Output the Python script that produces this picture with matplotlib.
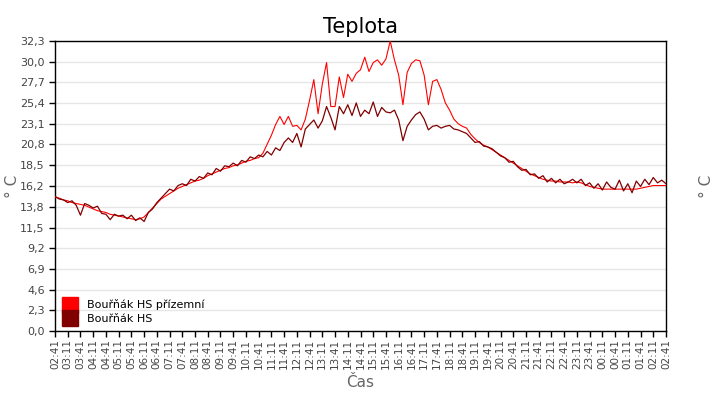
import matplotlib
matplotlib.use("Agg")
import matplotlib.pyplot as plt
from matplotlib.lines import Line2D
import numpy as np

# time in hours since 02:41, 10-minute steps
hours = [i / 6 for i in range(145)]

ground = [14.9, 14.8, 14.6, 14.5, 14.3, 14.2, 14.1, 14.0, 13.8, 13.6,
          13.4, 13.3, 13.2, 13.0, 12.9, 12.8, 12.7, 12.6, 12.5, 12.4,
          12.5, 12.7, 13.2, 13.7, 14.2, 14.7, 15.0, 15.3, 15.6, 15.9,
          16.1, 16.3, 16.5, 16.7, 16.8, 17.0, 17.3, 17.5, 17.7, 17.9,
          18.1, 18.2, 18.4, 18.5, 18.7, 18.9, 19.0, 19.2, 19.3, 19.8,
          20.8, 21.8, 23.0, 23.9, 23.0, 23.9, 22.8, 22.9, 22.4, 23.6,
          25.7, 28.0, 24.2, 27.5, 29.9, 25.0, 25.0, 28.3, 26.0, 28.6,
          27.8, 28.7, 29.1, 30.5, 28.9, 29.9, 30.2, 29.6, 30.3, 32.3,
          30.2, 28.5, 25.2, 28.8, 29.8, 30.2, 30.1, 28.5, 25.2, 27.8,
          28.0, 26.9, 25.4, 24.6, 23.6, 23.1, 22.8, 22.6, 21.9, 21.4,
          21.0, 20.7, 20.5, 20.2, 19.9, 19.6, 19.3, 19.0, 18.7, 18.4,
          18.1, 17.8, 17.5, 17.3, 17.1, 16.9, 16.8, 16.7, 16.7, 16.6,
          16.6, 16.6, 16.5, 16.6, 16.5, 16.3, 16.1, 16.0, 15.9, 15.8,
          15.8, 15.8, 15.8, 15.8, 15.8, 15.8, 15.8, 15.8, 15.9, 16.0,
          16.1, 16.2, 16.2, 16.2, 16.2]

hs = [15.0, 14.7, 14.6, 14.3, 14.5, 14.0, 12.9, 14.2, 14.0, 13.7,
      13.9, 13.1, 13.0, 12.4, 13.0, 12.8, 12.9, 12.5, 12.9, 12.3,
      12.6, 12.2, 13.2, 13.6, 14.3, 14.8, 15.3, 15.8, 15.6, 16.2,
      16.4, 16.2, 16.9, 16.7, 17.2, 17.0, 17.6, 17.4, 18.1, 17.8,
      18.4, 18.3, 18.7, 18.4, 19.0, 18.8, 19.4, 19.2, 19.6, 19.4,
      20.0, 19.6, 20.4, 20.1, 21.0, 21.5, 21.0, 22.0, 20.5, 22.5,
      23.0, 23.5, 22.6, 23.4, 25.0, 23.8, 22.4, 25.0, 24.2, 25.2,
      24.0, 25.4, 23.9, 24.6, 24.2, 25.5, 23.9, 24.9, 24.4, 24.3,
      24.6, 23.5, 21.2, 22.8, 23.5, 24.1, 24.4, 23.6, 22.4, 22.8,
      22.9, 22.6, 22.8, 22.9, 22.5, 22.4, 22.2, 22.0, 21.5, 21.0,
      21.1, 20.6, 20.5, 20.3, 19.9, 19.5, 19.3, 18.8, 18.9, 18.3,
      17.9, 18.0, 17.4, 17.5, 17.0, 17.3, 16.6, 17.0, 16.5, 16.9,
      16.4, 16.6, 16.9, 16.5, 16.9, 16.2, 16.5, 15.9, 16.4, 15.7,
      16.6, 16.0, 15.8, 16.8, 15.6, 16.4, 15.4, 16.7, 16.1, 16.9,
      16.3, 17.1, 16.5, 16.8, 16.4]

x_tick_labels = ["02:41", "03:11", "03:41", "04:11", "04:41", "05:11", "05:41",
                 "06:11", "06:41", "07:11", "07:41", "08:11", "08:41", "09:11",
                 "09:41", "10:11", "10:41", "11:11", "11:41", "12:11", "12:41",
                 "13:11", "13:41", "14:11", "14:41", "15:11", "15:41", "16:11",
                 "16:41", "17:11", "17:41", "18:11", "18:41", "19:11", "19:41",
                 "20:11", "20:41", "21:11", "21:41", "22:11", "22:41", "23:11",
                 "23:41", "00:11", "00:41", "01:11", "01:41", "02:11", "02:41"]
y_ticks = [0.0, 2.3, 4.6, 6.9, 9.2, 11.5, 13.8, 16.2, 18.5, 20.8, 23.1, 25.4, 27.7, 30.0, 32.3]
y_tick_labels = ["0,0", "2,3", "4,6", "6,9", "9,2", "11,5", "13,8", "16,2", "18,5",
                 "20,8", "23,1", "25,4", "27,7", "30,0", "32,3"]

fig = plt.figure(figsize=(7.2, 4.0), dpi=100)
ax = fig.add_axes([55/720, 69/400, 611/720, 290/400])

ax.plot(hours, ground, color="#ff0000", lw=0.8, zorder=3)
ax.plot(hours, hs, color="#800000", lw=0.9, zorder=4)

ax.set_xlim(0, 24)
ax.set_ylim(0, 32.3)
ax.set_yticks(y_ticks)
ax.set_yticklabels(y_tick_labels)
ax.set_xticks([i * 0.5 for i in range(len(x_tick_labels))])
ax.set_xticklabels(x_tick_labels, rotation=90)
ax.grid(axis="y", color="#e6e6e6", lw=1)
ax.set_axisbelow(True)
ax.tick_params(axis="both", direction="out", length=4, width=1, labelsize=8,
               labelcolor="#444444", color="black")
ax.tick_params(axis="x", labelsize=7.5, pad=2)
ax.tick_params(axis="y", right=True, labelright=True)
for s in ax.spines.values():
    s.set_color("black")
    s.set_linewidth(1)

ax.set_title("Teplota", fontsize=15, pad=6)
ax.set_xlabel("Čas", fontsize=11, color="#666666", labelpad=4)
ax.set_ylabel("° C", fontsize=11, color="#666666")
ax.yaxis.set_label_coords(-0.057, 0.5)
ax2 = ax.twinx()
ax2.set_ylim(0, 32.3)
ax2.set_yticks([])
ax2.set_ylabel("° C", fontsize=11, color="#666666", rotation=90)
ax2.yaxis.set_label_coords(1.054, 0.5)
for s in ax2.spines.values():
    s.set_visible(False)

handles = [Line2D([], [], marker="s", ls="", color="#ff0000", markersize=11),
           Line2D([], [], marker="s", ls="", color="#800000", markersize=11)]
ax.legend(handles, ["Bouřňák HS přízemní", "Bouřňák HS"], loc="lower left",
          frameon=False, fontsize=8, handlelength=1.0, handletextpad=1.0,
          labelspacing=0.35, borderaxespad=0.2, bbox_to_anchor=(0.005, 0.0))

fig.savefig("out.png", dpi=100)
